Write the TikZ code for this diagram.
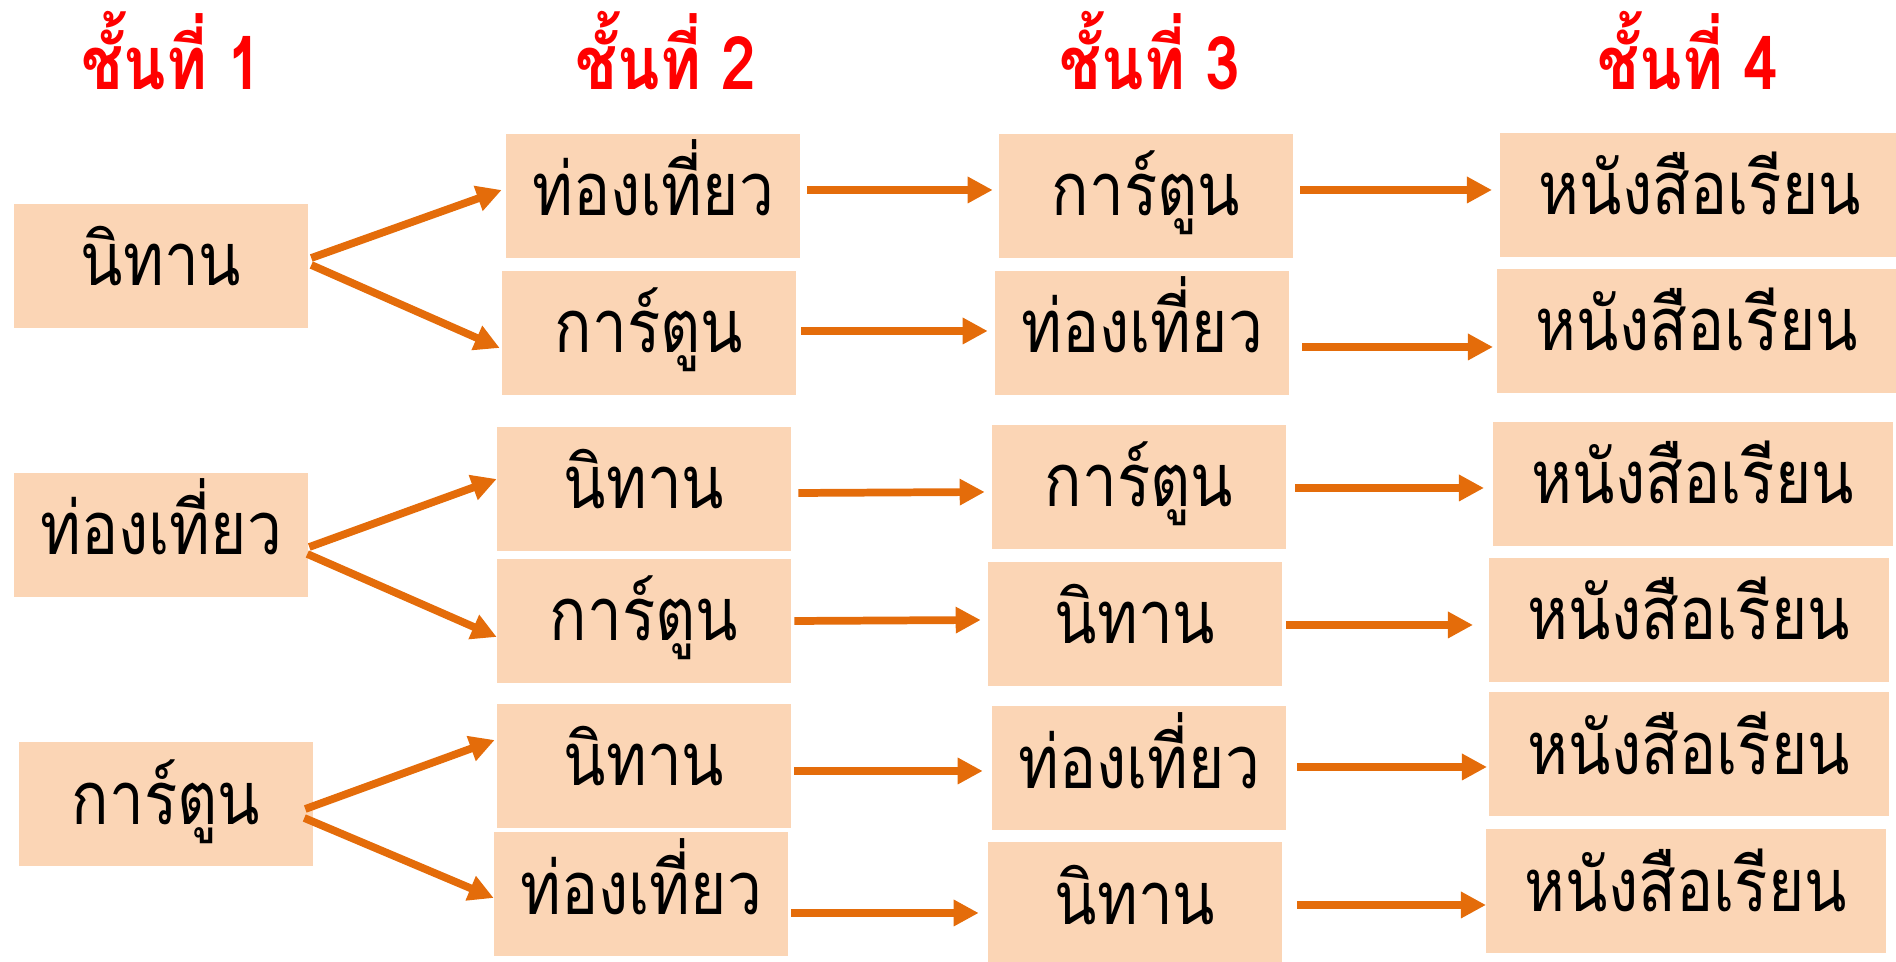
\documentclass[tikz,border=0pt]{standalone}
\usepackage{fontspec}
\newfontfamily\thaifont[Script=Thai, FakeStretch=0.84]{Loma}
\usetikzlibrary{arrows.meta,calc}
\definecolor{peach}{HTML}{FBD5B5}
\definecolor{darkorange}{HTML}{E46C0A}

\begin{document}
\begin{tikzpicture}[x=0.01cm, y=-0.01cm,
    box/.style = {fill=peach, minimum width=2.93cm, minimum height=1.23cm, inner sep=0pt,
      text height=0.45cm, text depth=0.05cm, font=\thaifont\fontsize{21}{25}\selectfont},
    bookbox/.style = {box, minimum width=4cm, anchor=west},
    level/.style = {anchor=base, text=red, font=\thaifont\bfseries\fontsize{21}{25}\selectfont},
    arr/.style = {draw=darkorange, line width=2.2pt, -{Triangle[length=0.25cm, width=0.25cm]}}]
    \useasboundingbox (0,0) rectangle (1896,962);
    % headings
    \node[level] (h1) at (172,90) {ชั้นที่ 1};
    \node[level] (h2) at (666,90) {ชั้นที่ 2};
    \node[level] (h3) at (1150,90) {ชั้นที่ 3};
    \node[level] (h4) at (1688,90) {ชั้นที่ 4};
    % first column
    \node[box] (a1) at (161,266) {นิทาน};
    \node[box] (a2) at (161,535) {ท่องเที่ยว};
    \node[box] (a3) at (166,804) {การ์ตูน};
    % second column
    \node[box] (b1) at (653,196) {ท่องเที่ยว};
    \node[box] (b2) at (649,333) {การ์ตูน};
    \node[box] (b3) at (644,489) {นิทาน};
    \node[box] (b4) at (644,621) {การ์ตูน};
    \node[box] (b5) at (644,766) {นิทาน};
    \node[box] (b6) at (641,894) {ท่องเที่ยว};
    % third column
    \node[box] (c1) at (1146,196) {การ์ตูน};
    \node[box] (c2) at (1142,333) {ท่องเที่ยว};
    \node[box] (c3) at (1139,487) {การ์ตูน};
    \node[box] (c4) at (1135,624) {นิทาน};
    \node[box] (c5) at (1139,768) {ท่องเที่ยว};
    \node[box] (c6) at (1135,904) {นิทาน};
    % fourth column
    \node[bookbox] (d1) at (1499,195) {หนังสือเรียน};
    \node[bookbox] (d2) at (1496,331) {หนังสือเรียน};
    \node[bookbox] (d3) at (1492,484) {หนังสือเรียน};
    \node[bookbox] (d4) at (1488,620) {หนังสือเรียน};
    \node[bookbox] (d5) at (1488,754) {หนังสือเรียน};
    \node[bookbox] (d6) at (1485,891) {หนังสือเรียน};
    % branches
    \draw[arr] ($(a1.east)+(3,-8)$) -- ($(b1.west)+(-4,-6)$);
    \draw[arr] ($(a1.east)+(3,-1)$) -- ($(b2.west)+(-2,15)$);
    \draw[arr] ($(a2.east)+(1,12)$) -- ($(b3.west)+(0,-10)$);
    \draw[arr] ($(a2.east)+(-1,19)$) -- ($(b4.west)+(0,16)$);
    \draw[arr] ($(a3.east)+(-8,5)$) -- ($(b5.west)+(-2,-26)$);
    \draw[arr] ($(a3.east)+(-9,14)$) -- ($(b6.west)+(0,4)$);
    % second to third
    \draw[arr] ($(b1.east)+(7,-6)$) -- ($(c1.west)+(-6,-6)$);
    \draw[arr] ($(b2.east)+(5,-2)$) -- ($(c2.west)+(-7,-2)$);
    \draw[arr] ($(b3.east)+(7,4)$) -- ($(c3.west)+(-7,5)$);
    \draw[arr] ($(b4.east)+(3,0)$) -- ($(c4.west)+(-7,-4)$);
    \draw[arr] ($(b5.east)+(3,5)$) -- ($(c5.west)+(-9,3)$);
    \draw[arr] ($(b6.east)+(3,19)$) -- ($(c6.west)+(-9,9)$);
    % third to fourth
    \draw[arr] ($(c1.east)+(7,-6)$) -- ($(d1.west)+(-7,-5)$);
    \draw[arr] ($(c2.east)+(13,14)$) -- ($(d2.west)+(-3,16)$);
    \draw[arr] ($(c3.east)+(9,1)$) -- ($(d3.west)+(-8,4)$);
    \draw[arr] ($(c4.east)+(4,1)$) -- ($(d4.west)+(-15,5)$);
    \draw[arr] ($(c5.east)+(11,-1)$) -- ($(d5.west)+(-1,13)$);
    \draw[arr] ($(c6.east)+(15,1)$) -- ($(d6.west)+(1,14)$);
\end{tikzpicture}
\end{document}
